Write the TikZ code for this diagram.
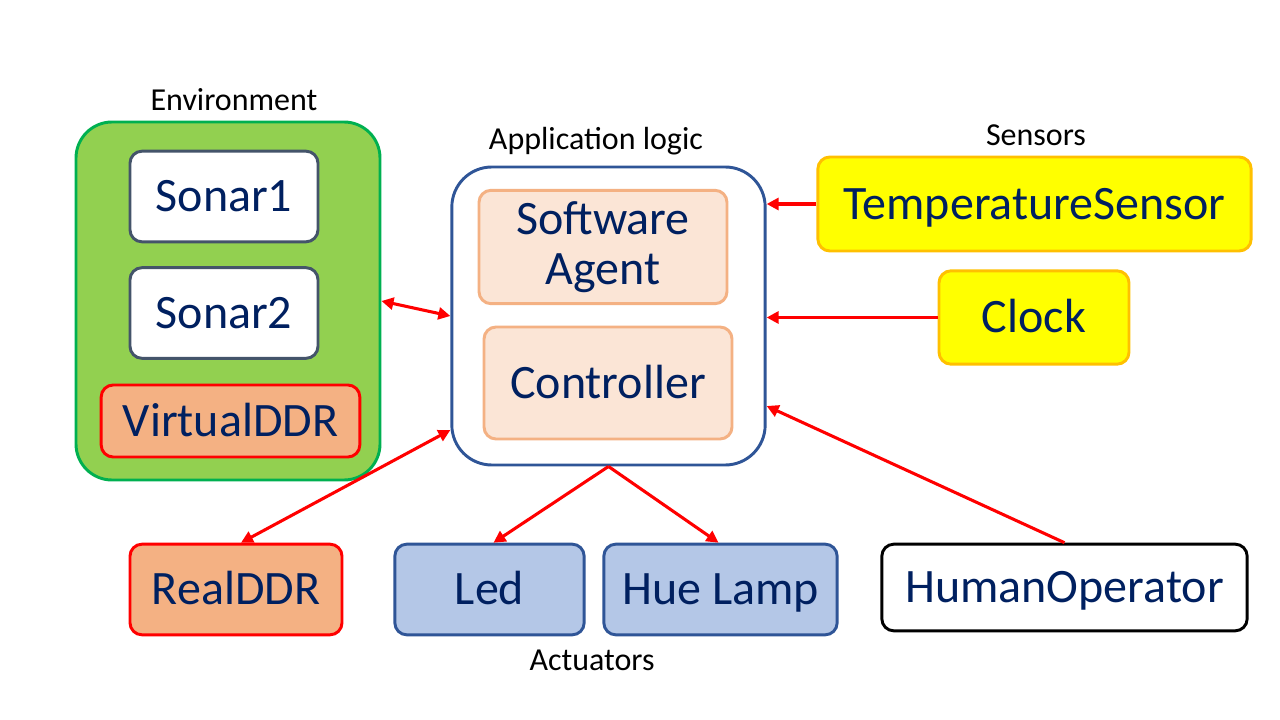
\documentclass[tikz,border=0pt]{standalone}
\usepackage{fontspec}
\setmainfont{Carlito}
\usetikzlibrary{calc,arrows.meta}
\definecolor{navy}{HTML}{002060}
\definecolor{envfill}{HTML}{92D050}
\definecolor{envdraw}{HTML}{00B050}
\definecolor{appdraw}{HTML}{2F5597}
\definecolor{peach}{HTML}{F4B183}
\definecolor{lightpeach}{HTML}{FBE5D6}
\definecolor{slate}{HTML}{44546A}
\definecolor{bluefill}{HTML}{B4C7E7}
\definecolor{gold}{HTML}{FFC000}
\definecolor{pureyellow}{RGB}{255,255,0}
\definecolor{purered}{RGB}{255,0,0}
\tikzset{
  box/.style={draw, line width=2.2pt, rounded corners=9pt, text=navy,
    font=\fontsize{36}{43}\selectfont, inner sep=0pt, text height=23pt, text depth=0pt},
  caption/.style={font=\fontsize{24}{28}\selectfont, text=black, inner sep=0pt, text height=15.5pt, text depth=0pt},
  link/.style={draw=purered, line width=2.3pt, -{Triangle[length=9pt,width=9pt]}},
  dlink/.style={draw=purered, line width=2.3pt, {Triangle[length=9pt,width=9pt]}-{Triangle[length=9pt,width=9pt]}}
}
\begin{document}
\begin{tikzpicture}[x=0.75pt,y=-0.75pt]
\useasboundingbox (0,0) rectangle (1280,720);
% Environment
\node[box, fill=envfill, draw=envdraw, rounded corners=27pt, minimum width=228pt, minimum height=268.5pt] (env) at (228,301) {};
\node[caption] (envlbl) at (234,100) {Environment};
\node[box, fill=white, draw=slate, minimum width=141pt, minimum height=68pt] (sonar1) at (224,196.5) {Sonar1};
\node[box, fill=white, draw=slate, minimum width=141pt, minimum height=68pt] (sonar2) at (224,313) {Sonar2};
\node[box, fill=peach, draw=purered, minimum width=194pt, minimum height=54pt] (vddr) at (230.5,421) {VirtualDDR};
% Application logic
\node[box, fill=white, draw=appdraw, rounded corners=30pt, minimum width=235pt, minimum height=223.5pt] (app) at (608.5,316) {};
\node[caption] (applbl) at (596,139) {Application logic};
\node[box, fill=lightpeach, draw=peach, minimum width=186pt, minimum height=85pt, align=center, text height=, text depth=, font=\fontsize{36}{37.5}\selectfont] (agent) at (603,247) {Software\\Agent};
\node[box, fill=lightpeach, draw=peach, minimum width=186pt, minimum height=84pt] (ctrl) at (608,383) {Controller};
% Sensors
\node[caption] (senslbl) at (1036,135) {Sensors};
\node[box, fill=pureyellow, draw=gold, minimum width=325pt, minimum height=70.5pt] (temp) at (1034.5,204) {TemperatureSensor};
\node[box, fill=pureyellow, draw=gold, minimum width=142.5pt, minimum height=70pt] (clock) at (1034,317.5) {Clock};
% Actuators and others
\node[box, fill=peach, draw=purered, minimum width=159pt, minimum height=68pt] (rddr) at (236,589.5) {RealDDR};
\node[box, fill=bluefill, draw=appdraw, minimum width=142pt, minimum height=68pt] (led) at (489.5,589.5) {Led};
\node[box, fill=bluefill, draw=appdraw, minimum width=175pt, minimum height=68pt] (hue) at (720.5,589.5) {Hue Lamp};
\node[caption] (actlbl) at (592,660) {Actuators};
\node[box, fill=white, draw=black, minimum width=274pt, minimum height=65pt] (human) at (1064.5,587.5) {HumanOperator};
% Connectors
\draw[dlink] (env.east) -- (app.west);
\draw[dlink] ($(app.west)+(0,114)$) -- ($(rddr.north)+(5,0)$);
\draw[link] (app.south) -- ($(led.north)+(4,0)$);
\draw[link] (app.south) -- ($(hue.north)+(-2,0)$);
\draw[link] (temp.west) -- (app.east |- temp.west);
\draw[link] (clock.west) -- (app.east |- clock.west);
\draw[link] (human.north) -- ($(app.east)+(0,90)$);
\end{tikzpicture}
\end{document}
